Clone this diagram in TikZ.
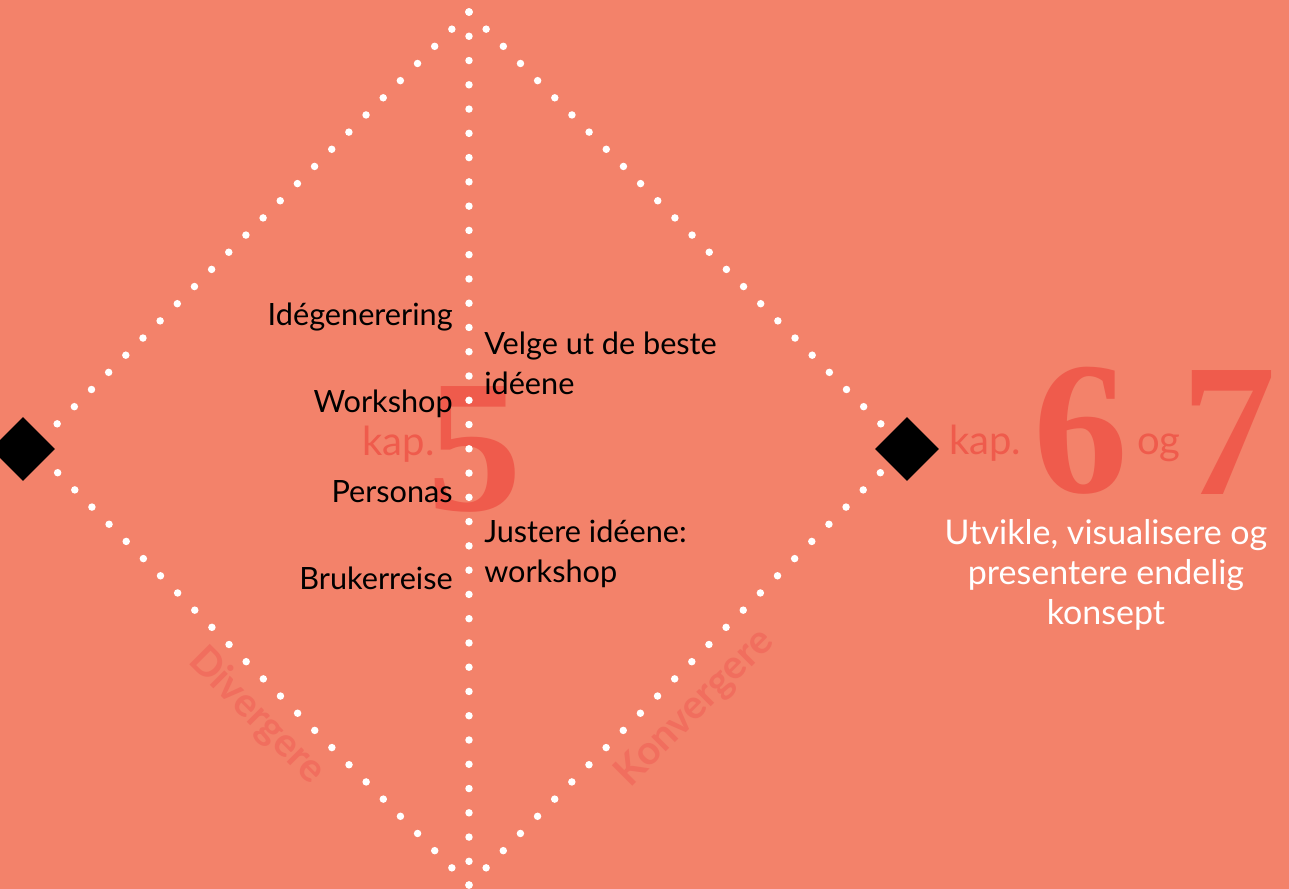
\documentclass[tikz,border=0pt]{standalone}
\usepackage{fontspec}
\setmainfont{Lato}
\newfontfamily\digitfont{Liberation Serif}
\usetikzlibrary{shapes.geometric}

\definecolor{salmon}{HTML}{F3826A}
\definecolor{kapred}{HTML}{EF5B4C}
\definecolor{phasered}{HTML}{F16E5E}

\begin{document}
\begin{tikzpicture}[x=0.75pt, y=-0.75pt,
                    dots/.style={white, line width=5.6pt, line cap=round, dash pattern=on 0pt off 18.2pt},
                    corner/.style={diamond, fill=black, inner sep=0pt, minimum size=48pt},
                    steplabel/.style={font=\fontsize{23}{29.5}\selectfont, inner sep=0pt},
                    kaplabel/.style={font=\fontsize{30}{36}\selectfont, text=kapred, inner sep=0pt},
                    bignum/.style={font=\digitfont\bfseries\fontsize{142}{142}\selectfont, text=kapred, inner sep=0pt},
                    phaselabel/.style={font=\bfseries\fontsize{30}{36}\selectfont, text=phasered, inner sep=0pt},
                    endlabel/.style={font=\fontsize{25.5}{30}\selectfont, text=white, align=center, inner sep=0pt}
]
\useasboundingbox (0,0) rectangle (1289,889);
\fill[salmon] (0,0) rectangle (1289,889);

% big chapter numbers behind everything
\node [bignum] at (475,449) (five) {5};
\node [kaplabel, anchor=base east] at (435,455) (kap5) {kap.};
\node [kaplabel, anchor=base west] at (949,454) (kap67) {kap.};
\node [bignum] at (1081,431) (six) {6};
\node [kaplabel, anchor=base west] at (1137,454) (og) {og};
\node [bignum] at (1229,433) (seven) {7};
%
\coordinate (top) at (469,12);
\coordinate (bottom) at (469,885);
\coordinate (left) at (33,448);
\coordinate (right) at (905,448);
%
\draw[dots] (top) -- (left);
\draw[dots] (top) -- (right);
\draw[dots] (top) -- (bottom);
\draw[dots] (bottom) -- (left);
\draw[dots] (bottom) -- (right);
%
\node [corner] at (23,449) (start) {};
\node [corner] at (907,449) (finish) {};
%
\node [steplabel, anchor=base east] at (453,325) (idea) {Idégenerering};
\node [steplabel, anchor=base east] at (453,412) (work) {Workshop};
\node [steplabel, anchor=base east] at (453,502) (pers) {Personas};
\node [steplabel, anchor=base east] at (453,589) (journey) {Brukerreise};
% multi-line nodes: base is the last line
\node [steplabel, align=left, anchor=base west] at (484,394) (select) {Velge ut de beste\\idéene};
\node [steplabel, align=left, anchor=base west] at (484,582) (adjust) {Justere idéene:\\workshop};
%
\node [phaselabel, rotate=-45] at (257,716) (diverge) {Divergere};
\node [phaselabel, rotate=45] at (695,708) (converge) {Konvergere};
%
\node [endlabel, anchor=base] at (1106,624) (develop) {Utvikle, visualisere og\\presentere endelig\\konsept};
\end{tikzpicture}
\end{document}
